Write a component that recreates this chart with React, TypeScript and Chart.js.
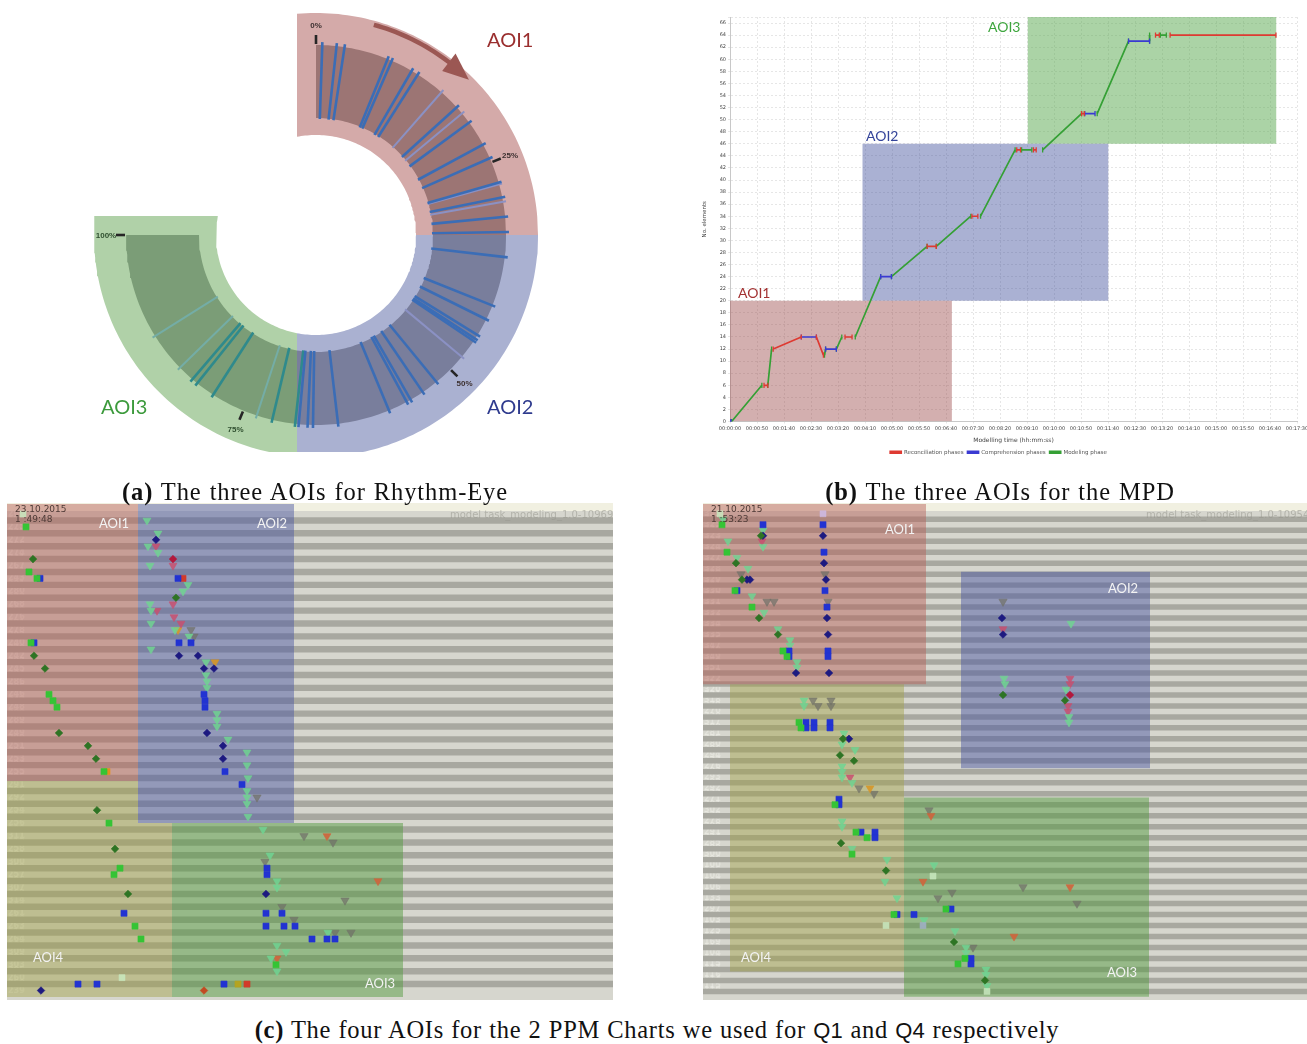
import React, { useEffect, useRef } from "react";
import { Chart, registerables } from "chart.js";

Chart.register(...registerables);

/* ================= (a) Rhythm-Eye radial chart ================= */
const rhythmAoiLabels = ["AOI1", "AOI2", "AOI3"];
const rhythmTickPercents = [0, 25, 50, 75, 100];
const rhythmTickLabels = ["0%", "25%", "50%", "75%", "100%"];
const rhythmSpokePercents = [
  0.7, 2.3, 3.2, 8.2, 8.7, 11.2, 12.0, 15.3, 17.7, 18.6, 19.9, 22.8, 24.5, 27.4, 27.6, 29.1, 29.6, 31.3, 33.0,
  35.8, 41.4, 43.1, 45.1, 45.6, 45.9, 48.1, 52.1, 54.0, 55.6, 56.1, 58.3, 64.2, 67.0, 67.6, 68.6,
  69.0, 71.6, 73.4, 78.8, 81.0, 81.7, 83.6, 88.1,
];
const rhythmSpokeShades = [
  "d", "d", "d", "d", "d", "d", "d", "l", "d", "l", "d", "d", "d", "d", "l", "d", "l", "d", "d",
  "d", "d", "d", "d", "d", "d", "l", "d", "d", "d", "d", "d", "d", "d", "d", "d",
  "d", "d", "l", "d", "d", "d", "l", "l",
];
const rhythmArrowPercents = [5.7, 16.5];

/* ================= (b) MPD ================= */
const mpdSeriesNames = ["Reconciliation phases", "Comprehension phases", "Modeling phase"];
const mpdReconciliation = [
  [[63, 6], [70, 6]],
  [[80, 12], [132, 14]],
  [[160, 14], [173, 11]],
  [[213, 14], [226, 14]],
  [[365, 29], [382, 29]],
  [[448, 34], [459, 34]],
  [[531, 45], [538, 45]],
  [[562, 45], [567, 45]],
  [[651, 51], [656, 51]],
  [[788, 64], [795, 64]],
  [[815, 64], [1011, 64]],
];
const mpdComprehension = [
  [[0, 0], [2, 0]],
  [[132, 14], [160, 14]],
  [[177, 12], [197, 12]],
  [[279, 24], [299, 24]],
  [[657, 51], [676, 51]],
  [[738, 63], [777, 63]],
];
const mpdModeling = [
  [[3, 0], [59, 6]],
  [[70, 6], [77, 12]],
  [[175, 11], [177, 12]],
  [[197, 12], [207, 14]],
  [[232, 14], [279, 24]],
  [[299, 24], [365, 29]],
  [[382, 29], [446, 34]],
  [[464, 34], [528, 45]],
  [[540, 45], [559, 45]],
  [[579, 45], [651, 51]],
  [[680, 51], [738, 63]],
  [[777, 63], [777, 64]],
  [[797, 64], [808, 64]],
];
const mpdAoiNames = ["AOI1", "AOI2", "AOI3"];
const mpdAoiStart = [0, 245, 551];
const mpdAoiEnd = [411, 701, 1012];
const mpdAoiLow = [0, 20, 46];
const mpdAoiHigh = [20, 46, 67];

/* ================= (c) PPM charts ================= */
const leftRowLabels = [
  "265", "276", "275", "273", "272", "266", "274", "241", "267", "211", "243", "281", "280", "277", "268",
  "269", "276", "271", "278", "282", "240", "270", "242", "283", "245", "284", "286", "285", "246", "247",
  "248", "288", "289", "287", "249", "290", "251", "293", "253", "294", "255", "295", "291", "296", "292",
  "297", "254", "298", "256", "299", "311", "313", "258", "301", "300", "259", "257", "306", "307", "262",
  "314", "308", "261", "310", "263", "312", "264", "303", "309", "302", "303", "305", "260", "250", "239",
];
// AOI4 of the left chart is L-shaped: AOI2 covers its upper right corner
const leftAoiNames = ["AOI1", "AOI2", "AOI4", "AOI4", "AOI3"];
const leftAoiX0 = [0, 131, 0, 0, 165];
const leftAoiX1 = [131, 287, 131, 165, 396];
const leftAoiY0 = [-1.55, -1.55, 41.46, 47.98, 47.98];
const leftAoiY1 = [41.46, 47.98, 47.98, 75.0, 75.0];

const leftGreenSquares = [[19, 2], [22, 9], [30, 10], [24, 20], [42, 28], [46, 29], [50, 30], [97, 40], [102, 48], [113, 55], [107, 56], [128, 64], [134, 66], [269, 70]];
const leftPaleSquares = [[16, 0], [115, 72]];
const leftGreenDiamonds = [[26, 7], [169, 13], [27, 22], [38, 24], [52, 34], [81, 36], [89, 38], [90, 46], [108, 52], [121, 59]];
const leftBlueSquares = [[33, 10], [171, 10], [27, 20], [172, 20], [184, 20], [197, 28], [198, 29], [198, 30], [218, 40], [235, 42], [260, 55], [260, 56], [117, 62], [259, 62], [275, 62], [259, 64], [277, 64], [288, 64], [305, 66], [320, 66], [328, 66], [71, 73], [90, 73], [217, 73]];
const leftNavyDiamonds = [[149, 4], [172, 22], [191, 22], [197, 24], [207, 24], [200, 34], [216, 36], [216, 38], [259, 59], [34, 74]];
const leftRedSquares = [[176, 10], [240, 73]];
const leftOrangeSquares = [[100, 40]];
const leftOliveSquares = [[231, 73]];
const leftRedDiamonds = [[166, 7]];
const leftRustDiamonds = [[197, 74]];
const leftGreenTriangles = [[140, 1], [151, 3], [141, 5], [151, 6], [143, 8], [181, 11], [176, 12], [143, 14], [144, 15], [144, 17], [168, 18], [182, 19], [144, 21], [199, 23], [199, 25], [200, 26], [200, 27], [210, 31], [210, 32], [210, 33], [221, 35], [240, 37], [240, 39], [241, 41], [240, 43], [240, 44], [240, 45], [241, 47], [256, 49], [263, 53], [270, 57], [270, 58], [270, 67], [279, 68], [264, 69], [270, 71], [321, 65]];
const leftPinkTriangles = [[149, 5], [166, 8], [166, 14], [150, 15], [167, 16], [174, 17]];
const leftOrangeTriangles = [[171, 18], [208, 23]];
const leftRustTriangles = [[320, 50], [371, 57], [270, 69]];
const leftGrayTriangles = [[184, 18], [187, 19], [250, 44], [297, 50], [326, 51], [258, 54], [338, 60], [275, 61], [287, 63], [328, 65], [344, 65]];

const rightRowLabels = [
  "333", "326", "325", "336", "323", "337", "324", "338", "327", "339", "328", "340", "329", "341", "330",
  "342", "331", "343", "332", "344", "334", "345", "335", "346", "347", "348", "349", "350", "351", "352",
  "322", "319", "320", "321", "318", "279", "270", "330", "317", "308", "281", "275", "280", "286", "294",
  "277", "276", "283", "293", "290", "292", "273", "271", "301", "302", "279", "278", "289", "291", "274",
  "285", "288", "300", "296", "100", "105", "104", "107", "106", "108", "133", "107", "297", "109", "103",
  "110", "125", "111", "169", "113", "104", "112", "115", "117", "116", "114", "115", "118",
];
const rightAoiNames = ["AOI1", "AOI2", "AOI4", "AOI3"];
const rightAoiX0 = [0, 258, 27, 201];
const rightAoiX1 = [223, 447, 201, 446];
const rightAoiY0 = [-1.78, 10.56, 31.07, 51.7];
const rightAoiY1 = [31.07, 46.37, 83.4, 87.97];

const rightGreenSquares = [[19, 2], [24, 7], [32, 14], [49, 17], [80, 25], [84, 26], [96, 38], [98, 39], [132, 53], [153, 58], [164, 59], [149, 62], [191, 73], [243, 72], [262, 81], [255, 82]];
const rightPaleSquares = [[17, 0], [183, 75], [230, 66], [284, 87]];
const rightLavenderSquares = [[120, 0]];
const rightSlateSquares = [[220, 75]];
const rightGreenDiamonds = [[58, 4], [33, 9], [39, 12], [56, 19], [75, 22], [140, 41], [137, 44], [151, 45], [138, 60], [183, 65], [251, 78], [282, 85], [300, 33], [362, 34]];
const rightBlueSquares = [[60, 2], [120, 2], [121, 7], [34, 14], [122, 14], [124, 17], [86, 25], [86, 26], [125, 25], [125, 26], [103, 38], [103, 39], [111, 38], [111, 39], [127, 38], [127, 39], [136, 52], [136, 53], [158, 58], [172, 58], [172, 59], [194, 73], [211, 73], [248, 72], [268, 81], [268, 82]];
const rightNavyDiamonds = [[60, 4], [120, 4], [121, 9], [44, 12], [47, 12], [123, 12], [124, 19], [125, 22], [93, 29], [126, 29], [146, 41], [299, 19], [300, 22]];
const rightRedDiamonds = [[367, 33]];
const rightGreenTriangles = [[20, 1], [60, 3], [25, 5], [60, 6], [34, 8], [45, 10], [49, 15], [61, 18], [75, 21], [87, 23], [87, 24], [94, 27], [94, 28], [101, 34], [101, 35], [141, 40], [139, 42], [152, 43], [139, 46], [139, 47], [139, 48], [149, 49], [139, 56], [139, 57], [149, 61], [184, 63], [182, 67], [194, 70], [221, 74], [252, 76], [263, 79], [263, 80], [283, 83], [283, 84], [284, 86], [231, 64], [301, 30], [302, 31], [368, 20], [363, 32], [366, 37], [366, 38]];
const rightPinkTriangles = [[59, 5], [147, 48], [300, 21], [367, 30], [367, 31], [365, 35], [365, 36]];
const rightOrangeTriangles = [[167, 50]];
const rightRustTriangles = [[228, 55], [220, 67], [367, 68], [311, 77]];
const rightGrayTriangles = [[38, 11], [122, 11], [64, 16], [71, 16], [125, 16], [110, 34], [115, 35], [128, 34], [128, 35], [156, 50], [171, 51], [235, 70], [249, 69], [270, 79], [300, 16], [320, 68], [374, 71], [226, 54]];

/* ================= styles ================= */
const FONT_SANS = "Lato, 'Open Sans', sans-serif";
const markerStyles: any = {
  greenSquare: { pointStyle: "rect", r: 4.3, color: "#35c435" },
  paleSquare: { pointStyle: "rect", r: 4.2, color: "rgba(200,232,190,0.85)" },
  lavenderSquare: { pointStyle: "rect", r: 4.2, color: "rgba(205,185,225,0.9)" },
  slateSquare: { pointStyle: "rect", r: 4.2, color: "rgba(160,175,195,0.9)" },
  greenDiamond: { pointStyle: "rectRot", r: 3.8, color: "#2e7424" },
  blueSquare: { pointStyle: "rect", r: 4.3, color: "#2233d2" },
  navyDiamond: { pointStyle: "rectRot", r: 3.8, color: "#1d1a80" },
  redSquare: { pointStyle: "rect", r: 4.3, color: "#d23a2a" },
  orangeSquare: { pointStyle: "rect", r: 4.3, color: "#e2901f" },
  oliveSquare: { pointStyle: "rect", r: 4.3, color: "#b4a421" },
  redDiamond: { pointStyle: "rectRot", r: 3.8, color: "#b3183c" },
  rustDiamond: { pointStyle: "rectRot", r: 3.8, color: "#c24a22" },
  greenTriangle: { pointStyle: "triangle", r: 4.6, color: "rgba(112,212,146,0.85)", rot: 180 },
  pinkTriangle: { pointStyle: "triangle", r: 4.6, color: "rgba(200,80,112,0.85)", rot: 180 },
  orangeTriangle: { pointStyle: "triangle", r: 4.6, color: "rgba(214,150,40,0.9)", rot: 180 },
  rustTriangle: { pointStyle: "triangle", r: 4.6, color: "rgba(208,100,60,0.9)", rot: 180 },
  grayTriangle: { pointStyle: "triangle", r: 4.8, color: "rgba(112,112,104,0.72)", rot: 180 },
};
const ppmAoiColors: any = {
  AOI1: "rgba(182,96,88,0.47)",
  AOI2: "rgba(72,84,162,0.47)",
  AOI4: "rgba(162,162,72,0.45)",
  AOI3: "rgba(78,152,58,0.47)",
};
const STRIPE_DARK = "#a8a8a0";

/* ================= helpers ================= */
function ChartCanvas(props: any) {
  const ref = useRef<HTMLCanvasElement | null>(null);
  useEffect(() => {
    const chart = new Chart(ref.current as HTMLCanvasElement, props.config());
    return () => chart.destroy();
  }, []);
  return (
    <canvas
      ref={ref}
      width={props.width}
      height={props.height}
      style={{ position: "absolute", left: props.left, top: props.top, width: props.width, height: props.height }}
    />
  );
}

const toRad = (d: number) => (d * Math.PI) / 180;
const polar = (deg: number, r: number) => ({ x: r * Math.sin(toRad(deg)), y: r * Math.cos(toRad(deg)) });
const arcPts = (r: number, a0: number, a1: number) => {
  const n = Math.max(6, Math.ceil(Math.abs(a1 - a0) / 1.2));
  const out = [];
  for (let i = 0; i <= n; i++) out.push(polar(a0 + ((a1 - a0) * i) / n, r));
  return out;
};
const asinD = (v: number) => (Math.asin(v) * 180) / Math.PI;
const acosD = (v: number) => (Math.acos(v) * 180) / Math.PI;
const pctToDeg = (p: number) => (p / 100) * 270;

/* ================= (a) config ================= */
function rhythmConfig(): any {
  const R_HOLE = 100, R_OUT = 222, BAND_IN = 117, BAND_OUT = 190, SPOKE_IN = 116, SPOKE_OUT = 193, SPLIT = 19;
  const oS = asinD(-SPLIT / R_OUT), iS = asinD(-SPLIT / R_HOLE);
  const bO = 180 - asinD(-SPLIT / BAND_OUT), bI = 180 - asinD(-SPLIT / BAND_IN);
  const shape = (data: any[], color: string, order: number) => ({
    data, fill: "shape", backgroundColor: color, borderWidth: 0, borderColor: "rgba(0,0,0,0)", pointRadius: 0, order, tension: 0,
  });
  const datasets: any[] = [
    shape([...arcPts(R_OUT, oS, 90), ...arcPts(R_HOLE, 90, iS)], "#d4aaa9", 9),
    shape([...arcPts(R_OUT, 90, 180 - oS), ...arcPts(R_HOLE, 180 - iS, 90)], "#aab1d1", 9),
    shape([...arcPts(R_OUT, 180 - oS, 360 - acosD(SPLIT / R_OUT)), ...arcPts(R_HOLE, 360 - acosD(SPLIT / R_HOLE), 180 - iS)], "#b0d1a8", 9),
    shape([...arcPts(BAND_OUT, 0, 90), ...arcPts(BAND_IN, 90, 0)], "#9c7574", 8),
    shape([...arcPts(BAND_OUT, 90, bO), ...arcPts(BAND_IN, bI, 90)], "#797e9c", 8),
    shape([...arcPts(BAND_OUT, bO, 270), ...arcPts(BAND_IN, 270, bI)], "#7b9d77", 8),
  ];
  rhythmSpokePercents.forEach((p, i) => {
    const a = pctToDeg(p);
    const teal = a > 180 - oS + 1;
    const light = rhythmSpokeShades[i] === "l";
    const color = teal ? (light ? "#74ada6" : "#2f8a8c") : light ? "#8b91c4" : "#3b6db6";
    datasets.push({
      data: [polar(a, SPOKE_IN), polar(a, SPOKE_OUT)],
      borderColor: color, borderWidth: light ? 2 : 2.6, pointRadius: 0, fill: false, order: 5,
    });
  });
  rhythmTickPercents.forEach((p) => {
    const a = pctToDeg(p);
    datasets.push({ data: [polar(a, 191), polar(a, 200)], borderColor: "#262626", borderWidth: 2.6, pointRadius: 0, fill: false, order: 3 });
  });
  const a0 = pctToDeg(rhythmArrowPercents[0]);
  const a1 = pctToDeg(rhythmArrowPercents[1]);
  datasets.push({ data: arcPts(218, a0, a1 - 6), borderColor: "#9b5753", borderWidth: 4.5, pointRadius: 0, fill: false, order: 2 });
  datasets.push(shape([polar(a1, 218), polar(a1 - 7, 207), polar(a1 - 7, 229), polar(a1, 218)], "#9b5753", 1));
  return {
    type: "line",
    data: { datasets },
    options: {
      animation: false, responsive: false, events: [],
      layout: { padding: 0, autoPadding: false },
      plugins: { legend: { display: false }, tooltip: { enabled: false } },
      scales: {
        x: { type: "linear", min: -222, max: 222, display: false },
        y: { type: "linear", min: -217, max: 225, display: false },
      },
    },
  };
}

/* ================= (b) config ================= */
const hms = (s: number) => {
  const h = Math.floor(s / 3600), m = Math.floor((s % 3600) / 60), sec = Math.round(s % 60);
  return [h, m, sec].map((v) => String(v).padStart(2, "0")).join(":");
};
const segData = (segs: any[]) => {
  const out: any[] = [];
  segs.forEach((seg: any[], i: number) => {
    seg.forEach(([x, y]: any) => out.push({ x, y }));
    if (i < segs.length - 1) out.push({ x: seg[seg.length - 1][0], y: null });
  });
  return out;
};
function mpdConfig(): any {
  const colors = ["#de3a32", "#3a3ad2", "#35a035"];
  const series = [mpdReconciliation, mpdComprehension, mpdModeling];
  const datasets: any[] = series.map((segs, i) => ({
    label: mpdSeriesNames[i],
    data: segData(segs),
    borderColor: colors[i], backgroundColor: colors[i],
    borderWidth: 1.7, spanGaps: false, fill: false,
    pointStyle: "line", pointRotation: 90, pointRadius: 2.6, pointBorderWidth: 1.3, pointBorderColor: colors[i],
    order: 1,
  }));
  const aoiColors = ["rgba(160,80,80,0.46)", "rgba(70,84,160,0.46)", "rgba(88,168,78,0.5)"];
  mpdAoiNames.forEach((n, i) => {
    datasets.push({
      label: n,
      data: [{ x: mpdAoiStart[i], y: mpdAoiHigh[i] }, { x: mpdAoiEnd[i], y: mpdAoiHigh[i] }],
      fill: { value: mpdAoiLow[i] }, backgroundColor: aoiColors[i], borderWidth: 0, borderColor: "rgba(0,0,0,0)",
      pointRadius: 0, order: 10,
    });
  });
  const tickFont = { family: "'DejaVu Sans', sans-serif", size: 5 };
  return {
    type: "line",
    data: { datasets },
    options: {
      animation: false, responsive: false, events: [],
      layout: { padding: { top: 7, right: 10, left: 0, bottom: 0 }, autoPadding: false },
      plugins: {
        tooltip: { enabled: false },
        legend: {
          position: "bottom",
          labels: {
            filter: (item: any) => mpdSeriesNames.includes(item.text),
            boxWidth: 11, boxHeight: 2, padding: 4,
            font: { family: "'DejaVu Sans', sans-serif", size: 5.5 }, color: "#555",
          },
        },
      },
      scales: {
        x: {
          type: "linear", min: 0, max: 1050,
          afterFit: (s: any) => { s.height = 24; s.paddingLeft = 0; s.paddingRight = 0; },
          ticks: { stepSize: 50, autoSkip: false, maxRotation: 0, callback: (v: any) => hms(v), font: tickFont, color: "#444", padding: 2 },
          grid: { color: "#e6e6e6", drawTicks: true, tickLength: 2 },
          border: { color: "#c8c8c8", dash: [2, 2] },
          title: { display: true, text: "Modelling time (hh:mm:ss)", font: { family: "'DejaVu Sans', sans-serif", size: 6 }, color: "#444", padding: 1 },
        },
        y: {
          type: "linear", min: 0, max: 67,
          afterFit: (s: any) => { s.width = 30; s.paddingTop = 0; s.paddingBottom = 0; },
          ticks: { stepSize: 2, autoSkip: false, callback: (v: any) => (v % 2 === 0 ? String(v) : ""), font: tickFont, color: "#444", padding: 2 },
          grid: { color: "#e6e6e6", drawTicks: true, tickLength: 2 },
          border: { color: "#c8c8c8", dash: [2, 2] },
          title: { display: true, text: "No. elements", font: { family: "'DejaVu Sans', sans-serif", size: 5.5 }, color: "#444", padding: 1 },
        },
      },
    },
  };
}

/* ================= (c) config ================= */
function ppmConfig(rowLabels: string[], yMin: number, yMax: number, xMax: number, aois: any[], markers: any[]): any {
  const datasets: any[] = [];
  // alternating row stripes: every odd row is dark, even rows show the light background
  rowLabels.forEach((_, r) => {
    if (r % 2 === 1) {
      datasets.push({
        label: "row" + r,
        data: [{ x: 0, y: r - 0.5 }, { x: xMax, y: r - 0.5 }],
        fill: { value: r + 0.5 }, backgroundColor: STRIPE_DARK, borderWidth: 0, borderColor: "rgba(0,0,0,0)",
        pointRadius: 0, order: 20,
      });
    }
  });
  aois.forEach((a) => {
    datasets.push({
      label: a.name,
      data: [{ x: a.x0, y: a.y0 }, { x: a.x1, y: a.y0 }],
      fill: { value: a.y1 }, backgroundColor: ppmAoiColors[a.name], borderWidth: 0, borderColor: "rgba(0,0,0,0)",
      pointRadius: 0, order: 10,
    });
  });
  markers.forEach(([kind, pts]: any) => {
    const st = markerStyles[kind];
    datasets.push({
      label: kind,
      data: pts.map(([x, y]: any) => ({ x, y })),
      showLine: false, pointStyle: st.pointStyle, pointRadius: st.r, pointRotation: st.rot || 0,
      pointBackgroundColor: st.color, pointBorderColor: st.color, pointBorderWidth: 0.6, order: 1,
    });
  });
  return {
    type: "line",
    data: { datasets },
    options: {
      animation: false, responsive: false, events: [],
      layout: { padding: 0, autoPadding: false },
      plugins: { legend: { display: false }, tooltip: { enabled: false } },
      scales: {
        x: { type: "linear", min: 0, max: xMax, display: false },
        y: {
          type: "linear", reverse: true, min: yMin, max: yMax,
          afterBuildTicks: (s: any) => { s.ticks = rowLabels.map((_, i) => ({ value: i })); },
          afterFit: (s: any) => { s.width = 0; s.paddingTop = 0; s.paddingBottom = 0; s.paddingLeft = 0; s.paddingRight = 0; },
          grid: { display: false },
          border: { display: false },
          ticks: {
            mirror: true, autoSkip: false, padding: 1,
            callback: (v: any) => rowLabels[v] ?? "",
            font: { family: "'DejaVu Sans', sans-serif", size: 8, weight: "bold" },
            color: "rgba(236,236,230,0.55)",
          },
        },
      },
    },
  };
}

const buildAois = (names: string[], x0: number[], x1: number[], y0: number[], y1: number[]) =>
  names.map((name, i) => ({ name, x0: x0[i], x1: x1[i], y0: y0[i], y1: y1[i] }));

/* ================= text helpers ================= */
const T = (props: any) => (
  <div style={{ position: "absolute", whiteSpace: "nowrap", lineHeight: 1, ...props.style }}>{props.children}</div>
);

export default function App() {
  const leftMarkers = [
    ["greenSquare", leftGreenSquares], ["paleSquare", leftPaleSquares], ["greenDiamond", leftGreenDiamonds],
    ["blueSquare", leftBlueSquares], ["navyDiamond", leftNavyDiamonds], ["redSquare", leftRedSquares],
    ["orangeSquare", leftOrangeSquares], ["oliveSquare", leftOliveSquares], ["redDiamond", leftRedDiamonds],
    ["rustDiamond", leftRustDiamonds], ["greenTriangle", leftGreenTriangles], ["pinkTriangle", leftPinkTriangles],
    ["orangeTriangle", leftOrangeTriangles], ["rustTriangle", leftRustTriangles], ["grayTriangle", leftGrayTriangles],
  ];
  const rightMarkers = [
    ["greenSquare", rightGreenSquares], ["paleSquare", rightPaleSquares], ["lavenderSquare", rightLavenderSquares],
    ["slateSquare", rightSlateSquares], ["greenDiamond", rightGreenDiamonds], ["blueSquare", rightBlueSquares],
    ["navyDiamond", rightNavyDiamonds], ["redDiamond", rightRedDiamonds], ["greenTriangle", rightGreenTriangles],
    ["pinkTriangle", rightPinkTriangles], ["orangeTriangle", rightOrangeTriangles], ["rustTriangle", rightRustTriangles],
    ["grayTriangle", rightGrayTriangles],
  ];
  const leftAois = buildAois(leftAoiNames, leftAoiX0, leftAoiX1, leftAoiY0, leftAoiY1);
  const rightAois = buildAois(rightAoiNames, rightAoiX0, rightAoiX1, rightAoiY0, rightAoiY1);

  const capFont = "'Liberation Serif', 'DejaVu Serif', serif";
  const capStyle = { font: `24.5px ${capFont}`, color: "#111", letterSpacing: "0.9px", wordSpacing: "1px" };
  const capStyleC = { ...capStyle, letterSpacing: "0.7px", wordSpacing: "0.5px" };
  const qStyle = { fontFamily: "'Liberation Sans', sans-serif", fontSize: 22, letterSpacing: "0.3px" };
  const ppmBg = "linear-gradient(#f1f0e1 0px, #f1f0e1 8px, #d6d6ce 8px)";
  const tickLabelPos = (p: number) => {
    const a = pctToDeg(p);
    const q = polar(a, 210);
    return { left: 316 + q.x, top: 235 - q.y };
  };

  return (
    <div style={{ position: "absolute", left: 0, top: 0, width: 1307, height: 1044, background: "#fff", overflow: "hidden" }}>
      {/* (a) */}
      <ChartCanvas left={94} top={10} width={444} height={442} config={rhythmConfig} />
      {rhythmTickLabels.map((lab, i) => {
        const pos = tickLabelPos(rhythmTickPercents[i]);
        return (
          <T key={lab} style={{ left: pos.left, top: pos.top, transform: "translate(-50%,-50%)", font: "bold 8px 'Liberation Sans', sans-serif", color: i >= 3 ? "#2f4f2f" : "#3c3030" }}>
            {lab}
          </T>
        );
      })}
      <T style={{ left: 487, top: 27, font: `20px ${FONT_SANS}`, color: "#9a2e2e" }}>{rhythmAoiLabels[0]}</T>
      <T style={{ left: 487, top: 394, font: `20px ${FONT_SANS}`, color: "#2f3b8e" }}>{rhythmAoiLabels[1]}</T>
      <T style={{ left: 101, top: 394, font: `20px ${FONT_SANS}`, color: "#3c9a3c" }}>{rhythmAoiLabels[2]}</T>

      {/* (b) */}
      <ChartCanvas left={700} top={10} width={607} height={455} config={mpdConfig} />
      <T style={{ left: 738, top: 284, font: `14px ${FONT_SANS}`, color: "#a33232" }}>{mpdAoiNames[0]}</T>
      <T style={{ left: 866, top: 127, font: `14px ${FONT_SANS}`, color: "#34449a" }}>{mpdAoiNames[1]}</T>
      <T style={{ left: 988, top: 18, font: `14px ${FONT_SANS}`, color: "#3ea63e" }}>{mpdAoiNames[2]}</T>

      {/* (c) left */}
      <div style={{ position: "absolute", left: 7, top: 503, width: 606, height: 497, background: ppmBg }} />
      <ChartCanvas left={7} top={503} width={606} height={497} config={() => ppmConfig(leftRowLabels, -1.71, 75.47, 606, leftAois, leftMarkers)} />
      <T style={{ left: 15, top: 504, font: "9px 'DejaVu Sans', sans-serif", color: "#4e3a36", lineHeight: "8px" }}>
        23.10.2015<br />1 :49:48
      </T>
      <T style={{ left: 450, top: 509, font: "10px 'DejaVu Sans', sans-serif", color: "rgba(150,150,140,0.55)" }}>model task_modeling_1.0-10969</T>
      <T style={{ left: 99, top: 515, font: `13px ${FONT_SANS}`, color: "#f3f3f3" }}>AOI1</T>
      <T style={{ left: 257, top: 515, font: `13px ${FONT_SANS}`, color: "#f3f3f3" }}>AOI2</T>
      <T style={{ left: 33, top: 949, font: `13px ${FONT_SANS}`, color: "#f3f3f3" }}>AOI4</T>
      <T style={{ left: 365, top: 975, font: `13px ${FONT_SANS}`, color: "#f3f3f3" }}>AOI3</T>

      {/* (c) right */}
      <div style={{ position: "absolute", left: 703, top: 503, width: 604, height: 497, background: ppmBg }} />
      <ChartCanvas left={703} top={503} width={604} height={497} config={() => ppmConfig(rightRowLabels, -1.96, 88.57, 604, rightAois, rightMarkers)} />
      <T style={{ left: 711, top: 504, font: "9px 'DejaVu Sans', sans-serif", color: "#4e3a36", lineHeight: "8px" }}>
        21.10.2015<br />1 :53:23
      </T>
      <T style={{ left: 1146, top: 509, font: "10px 'DejaVu Sans', sans-serif", color: "rgba(150,150,140,0.55)" }}>model task_modeling_1.0-10954</T>
      <T style={{ left: 885, top: 521, font: `13px ${FONT_SANS}`, color: "#f3f3f3" }}>AOI1</T>
      <T style={{ left: 1108, top: 580, font: `13px ${FONT_SANS}`, color: "#f3f3f3" }}>AOI2</T>
      <T style={{ left: 741, top: 949, font: `13px ${FONT_SANS}`, color: "#f3f3f3" }}>AOI4</T>
      <T style={{ left: 1107, top: 964, font: `13px ${FONT_SANS}`, color: "#f3f3f3" }}>AOI3</T>

      {/* captions */}
      <T style={{ left: 0, width: 630, top: 478, textAlign: "center", ...capStyle }}>
        <b>(a)</b> The three AOIs for Rhythm-Eye
      </T>
      <T style={{ left: 690, width: 620, top: 478, textAlign: "center", ...capStyle }}>
        <b>(b)</b> The three AOIs for the MPD
      </T>
      <T style={{ left: 0, width: 1314, top: 1016, textAlign: "center", ...capStyleC }}>
        <b>(c)</b> The four AOIs for the 2 PPM Charts we used for <span style={qStyle}>Q1</span> and <span style={qStyle}>Q4</span> respectively
      </T>
    </div>
  );
}
